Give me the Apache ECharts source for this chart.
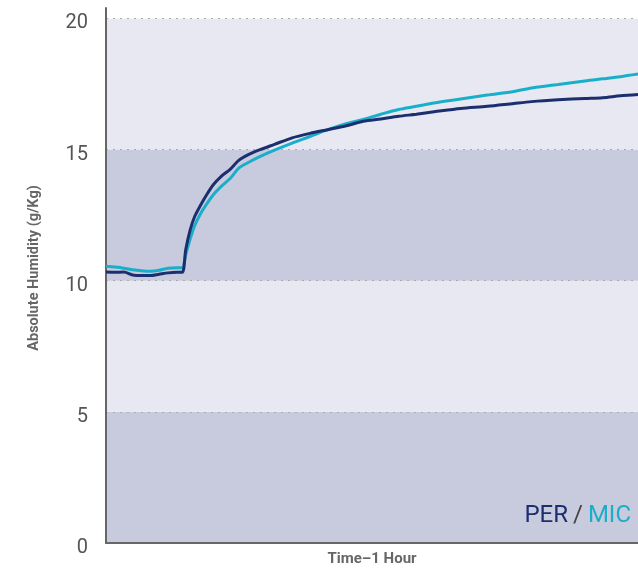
<!DOCTYPE html>
<html>
<head>
<meta charset="utf-8">
<script src="https://cdn.jsdelivr.net/npm/echarts@6/dist/echarts.min.js"></script>
<style>html,body{margin:0;padding:0;background:#fff}#c{width:638px;height:569px}</style>
</head>
<body>
<div id="c"></div>
<script>
// Time in minutes (x-axis spans one hour)
var timeMinutes = [0,1,2,3,4,5,6,7,8,8.6,9,9.5,10,10.6,11.3,12.1,13,14,15,16,17.4,19,21,23,25,27,29,31,33,35,37,40,43,46,48,51,54,56,58,60];
var perValues = [10.33,10.32,10.33,10.22,10.2,10.2,10.25,10.3,10.32,10.32,11.2,11.95,12.45,12.84,13.25,13.66,13.98,14.25,14.6,14.8,15.0,15.2,15.45,15.62,15.76,15.9,16.08,16.17,16.27,16.35,16.44,16.57,16.65,16.76,16.83,16.9,16.95,16.98,17.05,17.1];
var micValues = [10.55,10.52,10.48,10.42,10.38,10.36,10.4,10.48,10.5,10.5,11.0,11.6,12.1,12.52,12.9,13.28,13.6,13.9,14.3,14.5,14.74,14.98,15.25,15.5,15.76,15.98,16.15,16.35,16.53,16.65,16.78,16.93,17.08,17.22,17.35,17.48,17.62,17.7,17.78,17.88];
var yTicks = [0,5,10,15,20];

function pairs(xs, ys){ return xs.map(function(x,i){ return [x, ys[i]]; }); }

var chart = echarts.init(document.getElementById('c'));
chart.setOption({
  animation: false,
  backgroundColor: '#fff',
  title: {
    right: 2, bottom: 36,
    text: '{a|PER} {s|/} {b|MIC}',
    textStyle: {
      rich: {
        a: { fontFamily: 'Roboto', fontWeight: 'normal', fontSize: 24, color: '#1b2f6f' },
        s: { fontFamily: 'Roboto', fontWeight: 'normal', fontSize: 24, color: '#444' },
        b: { fontFamily: 'Roboto', fontWeight: 'normal', fontSize: 24, color: '#1aafc9' }
      }
    }
  },
  grid: { left: 106, right: 0, top: 8, bottom: 26, outerBoundsMode: 'none', containLabel: false },
  xAxis: {
    type: 'value', min: 0, max: 60,
    name: 'Time\u20131 Hour', nameLocation: 'middle', nameGap: 9,
    nameTextStyle: { fontFamily: 'Roboto', fontWeight: 'bold', fontSize: 15, color: '#666', verticalAlign: 'top' },
    axisLine: { show: true, lineStyle: { color: '#666', width: 2 } },
    axisTick: { show: false }, axisLabel: { show: false }, splitLine: { show: false }
  },
  yAxis: {
    type: 'value', min: 0, max: 20.4, interval: 5,
    name: 'Absolute Humidity (g/Kg)', nameLocation: 'middle', nameGap: 64,
    nameTextStyle: { fontFamily: 'Roboto', fontWeight: 'bold', fontSize: 14.5, color: '#666', padding: [0, 0, 0, 15] },
    axisLine: { show: true, lineStyle: { color: '#666', width: 2 } },
    axisTick: { show: false },
    axisLabel: { margin: 18, showMaxLabel: false,
      formatter: function(v){ return yTicks.indexOf(v) >= 0 ? '{v|' + v + '}' : ''; },
      rich: { v: { fontFamily: 'Roboto', fontSize: 20, color: '#555', padding: [10, 0, 0, 0] } } },
    splitLine: { show: true, lineStyle: { type: [2, 5], width: 1, color: ['#aaa','#aaa','#aaa','#aaa','#aaa','rgba(0,0,0,0)'] } },
    splitArea: { show: true, areaStyle: { color: ['#c8cadd','#e7e8f2','#c8cadd','#e7e8f2','#ffffff'] } }
  },
  series: [
    { name: 'MIC', type: 'line', data: pairs(timeMinutes, micValues), showSymbol: false, smooth: 0.3,
      lineStyle: { color: '#1aafc9', width: 3 }, itemStyle: { color: '#1aafc9' } },
    { name: 'PER', type: 'line', data: pairs(timeMinutes, perValues), showSymbol: false, smooth: 0.3,
      lineStyle: { color: '#1b2f6f', width: 3 }, itemStyle: { color: '#1b2f6f' } }
  ]
});
</script>
</body>
</html>
